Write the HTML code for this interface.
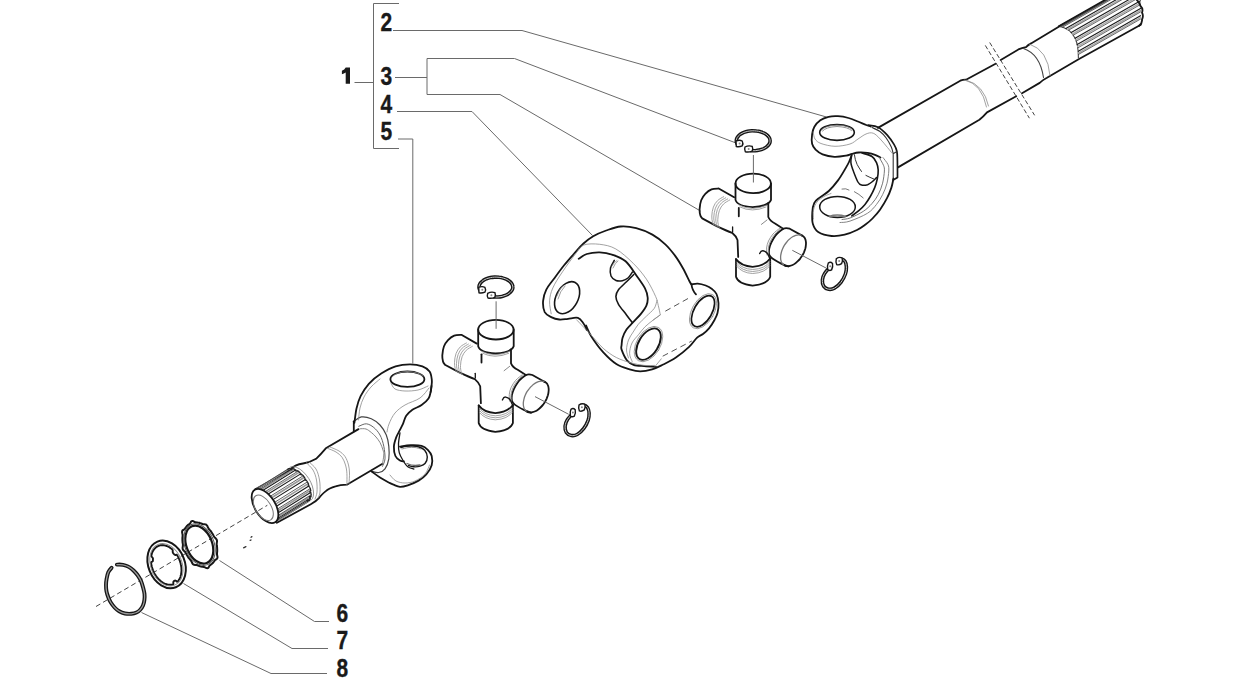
<!DOCTYPE html>
<html><head><meta charset="utf-8">
<style>
html,body{margin:0;padding:0;background:#fff;}
body{width:1236px;height:680px;overflow:hidden;}
svg{display:block;}
.lb{font-family:"Liberation Sans",sans-serif;font-weight:bold;font-size:25px;fill:#1a1a1a;stroke:#1a1a1a;stroke-width:0.35px;}
.k{fill:none;stroke:#161616;stroke-width:1.8;stroke-linecap:round;stroke-linejoin:round;}
.t{fill:none;stroke:#8a8a8a;stroke-width:0.8;stroke-linecap:round;stroke-linejoin:round;}
.m{fill:none;stroke:#444;stroke-width:1.1;stroke-linecap:round;stroke-linejoin:round;}
.ld{fill:none;stroke:#6a6a6a;stroke-width:1;}
.w{fill:#fff;stroke:none;}
</style></head>
<body>
<svg width="1236" height="680" viewBox="0 0 1236 680">
<!-- ===== labels & bracket ===== -->
<g id="labels">
<path class="ld" d="M399 3.5H373.5V148.5H399"/>
<path class="ld" d="M354.5 82.5H373.5"/>
<path d="M345.7 67.5H350V83.8H345.7V72.6Q344 73.9 341.9 74.3V70.7Q344.6 69.9 345.7 67.5Z" fill="#1a1a1a"/>
<text class="lb" transform="translate(380.5,30.5) scale(0.84,1)">2</text>
<text class="lb" transform="translate(380.5,85) scale(0.84,1)">3</text>
<text class="lb" transform="translate(380.5,112.5) scale(0.84,1)">4</text>
<text class="lb" transform="translate(380.5,140) scale(0.84,1)">5</text>
<text class="lb" transform="translate(336.5,621.5) scale(0.84,1)">6</text>
<text class="lb" transform="translate(336.5,648.5) scale(0.84,1)">7</text>
<text class="lb" transform="translate(336.5,676.5) scale(0.84,1)">8</text>
</g>
<!-- ===== leader lines ===== -->
<g id="leaders">
<path class="ld" d="M393 30.5H522L826.5 117"/>
<path class="ld" d="M395 77.5H427M427 58.5V94.5M427 58.5H514.5L736 143M427 94.5H500L700.5 211"/>
<path class="ld" d="M397 111.5H472L592.5 235.5"/>
<path class="ld" d="M398 139H412.8V363.5"/>
<path class="ld" d="M219.5 560.5L314.5 621.5H329"/>
<path class="ld" d="M183.5 583.5L292 648.5H328"/>
<path class="ld" d="M141.5 612.5L271 673.5H327"/>
</g>
<!-- ===== top-right shaft (2) ===== -->
<g id="shaft2">
<!-- shaft body edges -->
<path class="k" d="M877.9 127.9L960.3 80.7Q963 79.6 966 79.7L995.6 63.8M1000.7 60.1L1019.1 49.1Q1023 47.5 1026 47.1Q1028 45 1031 43.4L1059.6 26.2L1106.9 0"/>
<path class="k" d="M898 167.4L979.4 119.7Q983.5 116.5 987 112.4L1016.2 96.2M1022 93.2L1039.7 82.9Q1043.5 79.5 1047 77.8L1078.6 59.2L1140.8 24.7"/>
<!-- step arcs -->
<path class="t" d="M964.7 80Q982 84 986.5 107"/>
<path class="t" d="M966.5 80.2Q984 85 988.5 106"/>
<path class="m" d="M1023.5 48.4Q1040 54 1043.5 77.5"/>
<path class="t" d="M1029.4 44Q1048 50 1050 75.6"/>
<!-- spline start arc -->
<path class="m" d="M1058.8 26.3C1066 27.5 1072 32 1075.1 38.2C1077.5 43 1078.4 50 1078.4 58"/>
<path class="m" d="M1059.5 26.5L1140.5 -19.9" style="stroke:#1a1a1a;stroke-width:1.1"/>
<path class="t" d="M1061.3 26.9L1140.5 -18.4" style="stroke:#a8a8a8;stroke-width:1.5"/>
<path class="t" d="M1062.6 27.2L1140.5 -17.3" style="stroke:#444;stroke-width:0.8"/>
<path class="m" d="M1065.9 28.5L1140.5 -14.2" style="stroke:#1a1a1a;stroke-width:1.1"/>
<path class="t" d="M1067.5 29.5L1140.5 -12.2" style="stroke:#a8a8a8;stroke-width:1.5"/>
<path class="t" d="M1068.6 30.2L1140.5 -10.9" style="stroke:#444;stroke-width:0.8"/>
<path class="m" d="M1071.2 32.6L1140.5 -7.0" style="stroke:#1a1a1a;stroke-width:1.1"/>
<path class="t" d="M1072.5 34.0L1140.5 -4.9" style="stroke:#a8a8a8;stroke-width:1.5"/>
<path class="t" d="M1073.2 35.2L1140.5 -3.3" style="stroke:#444;stroke-width:0.8"/>
<path class="m" d="M1075.1 38.2L1140.5 0.8" style="stroke:#1a1a1a;stroke-width:1.1"/>
<path class="t" d="M1075.7 39.9L1140.5 2.9" style="stroke:#a8a8a8;stroke-width:1.5"/>
<path class="t" d="M1076.2 41.2L1140.5 4.5" style="stroke:#444;stroke-width:0.8"/>
<path class="m" d="M1077.2 44.6L1140.5 8.4" style="stroke:#1a1a1a;stroke-width:1.1"/>
<path class="t" d="M1077.7 46.4L1140.5 10.5" style="stroke:#a8a8a8;stroke-width:1.5"/>
<path class="t" d="M1078.0 47.8L1140.5 12.0" style="stroke:#444;stroke-width:0.8"/>
<path class="m" d="M1078.3 51.3L1140.5 15.7" style="stroke:#1a1a1a;stroke-width:1.1"/>
<path class="t" d="M1078.4 53.2L1140.5 17.7" style="stroke:#a8a8a8;stroke-width:1.5"/>
<path class="t" d="M1078.4 54.5L1140.5 19.1" style="stroke:#444;stroke-width:0.8"/>
<path class="k" d="M1136 -1Q1140 3 1140.5 6Q1143.5 9 1142 12.5Q1143.8 16 1142 19.5Q1142.5 23 1139.1 25.8"/>
<path class="k" d="M1058.8 26.3L1105 0"/>
<path class="m" d="M1061 26.6L1107.5 0"/>
<!-- break lines -->
<path class="ld" d="M985.3 45.4L1029.4 118.2M989.7 42.5L1034.6 115.3" stroke-dasharray="4.5 2.3" style="stroke:#444"/>
<path class="k" d="M868.2 125.2C869.9 125.5 874.9 125.6 878.1 127.2C881.3 128.8 884.6 132.2 887.3 135.1C889.9 138.0 892.4 141.8 894.0 144.4C895.6 147.1 896.2 148.4 896.8 151.0C897.4 153.6 897.3 155.6 897.4 160.0C897.5 164.4 897.5 174.6 897.5 177.5L893.2 180" style="stroke-width:1.7"/>
<path class="k" d="M872.0 127.5C873.3 128.2 877.7 129.8 880.0 131.5C882.3 133.2 884.1 135.2 886.0 137.8C887.9 140.4 890.1 144.3 891.3 147.0C892.5 149.7 892.9 152.6 893.2 153.7L893.2 180M893.2 153.7L896.8 151.5" style="stroke-width:1.1;stroke:#333"/>
<path class="k" d="M870.5 126.5C869.8 126.2 868.3 125.8 866.2 125.0C864.1 124.2 860.9 122.7 857.9 121.5C854.9 120.3 851.8 118.9 848.5 118.0C845.2 117.1 841.3 116.4 838.0 116.2C834.7 116.0 831.5 116.1 828.5 116.8C825.5 117.5 822.6 118.6 820.3 120.3C817.9 122.0 815.8 124.4 814.4 126.8C813.0 129.2 812.5 131.6 812.1 134.4C811.7 137.2 811.5 141.2 812.1 143.8C812.7 146.4 813.9 147.9 815.6 149.7C817.4 151.5 819.5 153.2 822.6 154.4C825.7 155.6 830.5 156.6 834.4 156.8C838.3 157.0 843.3 156.1 846.2 155.6C849.1 155.1 849.9 154.3 852.0 153.8C854.1 153.3 856.2 152.7 858.8 152.5C861.4 152.3 864.9 152.5 867.6 152.9C870.3 153.3 872.9 154.0 875.0 154.8C877.1 155.6 879.6 157.1 880.5 157.5"/>
<ellipse class="k" cx="837" cy="132.4" rx="17.3" ry="7.95" style="stroke-width:1.6"/>
<path class="t" d="M821.5 130Q825 125.5 837 125.2Q849 125.5 852.5 129.5M822.5 131Q826 127 837 126.5Q848 127 851.5 130.5" style="stroke:#777"/>
<path class="t" d="M813.2 132.0C813.5 133.2 813.7 137.1 815.0 139.0C816.3 140.9 817.7 142.3 821.0 143.5C824.3 144.7 830.2 146.2 835.0 146.3C839.8 146.4 846.2 145.2 850.0 144.0C853.8 142.8 855.3 140.7 858.0 139.0C860.7 137.3 863.5 135.0 866.0 134.0C868.5 133.0 870.8 132.3 873.2 133.2C875.6 134.0 877.9 136.7 880.3 139.1C882.7 141.5 885.4 145.1 887.4 147.4C889.4 149.8 891.3 152.2 892.1 153.2"/>
<path class="k" d="M862.0 153.0C863.7 153.6 869.6 154.9 872.0 156.5C874.4 158.1 875.5 160.3 876.5 162.6C877.5 164.8 878.1 167.3 878.2 170.0C878.3 172.7 877.9 175.9 877.3 178.8C876.7 181.7 875.9 184.7 874.7 187.6C873.5 190.5 871.9 193.7 870.3 196.5C868.7 199.3 866.9 202.1 865.0 204.4C863.1 206.8 861.0 208.7 858.8 210.6C856.6 212.5 853.0 215.0 851.8 215.9" style="stroke-width:1.6"/>
<path class="t" d="M879.1 157.3C879.8 158.6 882.6 163.0 883.5 165.3C884.4 167.6 884.5 168.0 884.4 171.0C884.2 174.0 883.6 179.2 882.6 183.2C881.6 187.1 880.0 191.3 878.2 194.7C876.4 198.1 874.5 200.7 872.0 203.5C869.5 206.3 866.9 209.0 863.2 211.4C859.5 213.8 853.5 216.7 850.0 218.0C846.5 219.3 843.3 219.2 842.0 219.5" style="stroke:#666;stroke-width:0.9"/>
<path class="t" d="M883.0 157.6C883.8 158.7 886.9 162.2 887.9 164.4C888.9 166.6 888.9 167.9 888.8 171.0C888.6 174.1 888.0 179.2 887.0 183.2C886.0 187.1 884.4 191.2 882.6 194.7C880.9 198.2 879.0 201.3 876.5 204.4C874.0 207.5 872.0 210.4 867.6 213.2C863.2 216.0 854.6 219.5 850.0 221.1C845.4 222.7 841.7 222.3 840.0 222.5" style="stroke:#777;stroke-width:0.9"/>
<path class="k" d="M851.5 155.5C851.1 156.6 850.1 159.6 849.0 162.0C847.9 164.4 846.5 166.7 844.7 169.8C842.9 172.9 840.6 176.9 838.0 180.4C835.4 183.9 831.9 188.1 828.8 191.0C825.7 193.9 822.0 195.6 819.6 197.6C817.2 199.6 815.5 200.5 814.3 202.9C813.1 205.3 812.5 208.7 812.3 212.2C812.1 215.7 811.9 220.8 812.9 224.1C813.9 227.4 815.1 230.0 818.2 232.0C821.3 234.0 827.1 235.6 831.5 236.0C835.9 236.4 840.5 235.7 844.7 234.7C849.0 233.7 853.5 231.7 857.0 230.0C860.5 228.3 862.9 226.4 865.5 224.5C868.1 222.6 870.1 221.0 872.5 218.5C874.9 216.0 877.6 213.1 880.0 209.7C882.4 206.3 885.1 201.9 887.0 198.2C888.9 194.5 890.3 190.9 891.4 187.6C892.5 184.3 893.1 180.0 893.5 178.5"/>
<ellipse class="k" cx="837.5" cy="206.9" rx="17.8" ry="10.5" style="stroke-width:1.5"/>
<path class="t" d="M829 216.3Q837 213.5 846 216.3M830 217Q837 215 845 217" style="stroke:#777;stroke-width:1.1"/>
<path class="t" d="M813.5 219.0C813.5 217.5 812.9 212.8 813.5 210.0C814.1 207.2 815.2 204.2 817.0 202.0C818.8 199.8 821.7 197.9 824.0 196.5C826.3 195.1 829.8 194.0 831.0 193.5"/>
<path class="k" d="M851.8 154.7C851.6 156.0 850.6 159.8 850.9 162.6C851.2 165.4 852.3 168.3 853.5 171.5C854.7 174.7 856.6 179.7 857.9 182.0C859.2 184.3 859.9 184.7 861.5 185.1C863.1 185.5 865.7 185.3 867.6 184.7C869.5 184.0 871.4 182.4 872.9 181.2C874.4 180.0 875.9 178.2 876.5 177.6" style="stroke-width:1.5"/>
<path class="t" d="M854.4 154.7Q855 160 857.1 164.4Q859 168 861.5 171.5M865.9 175.4Q870 177.5 873.8 179" style="stroke:#333;stroke-width:1"/>
<path class="t" d="M842 189Q846 188 849 190M854.4 191.7Q859 194 863.2 197.9" style="stroke:#555"/>
</g>
<!-- ===== cross joint (3) upper ===== -->
<g id="cross">
<path d="M737.0 143.7C736.9 143.3 736.4 142.0 736.3 141.2C736.3 140.3 736.4 139.5 736.7 138.6C737.0 137.8 737.5 137.0 738.2 136.2C738.8 135.5 739.7 134.7 740.6 134.1C741.6 133.5 742.7 132.9 743.9 132.4C745.1 132.0 746.5 131.6 747.8 131.3C749.2 131.0 750.7 130.9 752.1 130.8C753.5 130.8 755.0 130.8 756.4 131.0C757.8 131.1 759.3 131.4 760.5 131.8C761.8 132.2 763.1 132.6 764.2 133.2C765.3 133.7 766.3 134.4 767.1 135.1C767.9 135.8 768.6 136.6 769.1 137.4C769.6 138.2 769.9 139.0 770.0 139.9C770.2 140.7 770.1 141.6 769.9 142.5C769.6 143.3 769.2 144.1 768.6 144.9C768.0 145.7 767.2 146.4 766.3 147.1C765.4 147.8 764.3 148.4 763.2 148.9C762.0 149.4 760.7 149.8 759.4 150.1C758.1 150.4 756.6 150.6 755.2 150.7C753.8 150.8 751.6 150.7 750.8 150.7" fill="none" stroke="#161616" stroke-width="3.6" stroke-linecap="round" stroke-linejoin="round"/>
<path d="M737.0 143.7C736.9 143.3 736.4 142.0 736.3 141.2C736.3 140.3 736.4 139.5 736.7 138.6C737.0 137.8 737.5 137.0 738.2 136.2C738.8 135.5 739.7 134.7 740.6 134.1C741.6 133.5 742.7 132.9 743.9 132.4C745.1 132.0 746.5 131.6 747.8 131.3C749.2 131.0 750.7 130.9 752.1 130.8C753.5 130.8 755.0 130.8 756.4 131.0C757.8 131.1 759.3 131.4 760.5 131.8C761.8 132.2 763.1 132.6 764.2 133.2C765.3 133.7 766.3 134.4 767.1 135.1C767.9 135.8 768.6 136.6 769.1 137.4C769.6 138.2 769.9 139.0 770.0 139.9C770.2 140.7 770.1 141.6 769.9 142.5C769.6 143.3 769.2 144.1 768.6 144.9C768.0 145.7 767.2 146.4 766.3 147.1C765.4 147.8 764.3 148.4 763.2 148.9C762.0 149.4 760.7 149.8 759.4 150.1C758.1 150.4 756.6 150.6 755.2 150.7C753.8 150.8 751.6 150.7 750.8 150.7" fill="none" stroke="#c8c8c8" stroke-width="1.0" stroke-linecap="round" stroke-linejoin="round"/>
<path d="M736 141Q739.5 139.6 742.2 141Q743.6 143.5 742.2 145.9Q739 147.2 736.3 146.5Z" fill="#fff" stroke="#161616" stroke-width="1.4"/>
<circle cx="739.6" cy="143.4" r="1" fill="#888"/>
<path d="M745 147Q748.5 145.1 752.2 146.3Q753.2 148.6 752.1 151.1Q748.5 152.5 745.3 151.7Q744.1 149.5 745 147Z" fill="#fff" stroke="#161616" stroke-width="1.4"/>
<circle cx="748.7" cy="148.9" r="1" fill="#888"/>
<!-- top cap -->
<ellipse class="k" cx="753.2" cy="183.4" rx="17.7" ry="9.8"/>
<path class="k" d="M735.5 183.4V199.9Q737 206 752.7 207.2Q769 206 771 199.9V183.4"/>
<path class="t" d="M739 205Q752 212 767 205M740 207Q752 213 766 207"/>
<!-- neck / body lines -->
<path class="k" d="M738.8 208V216.3"/>
<path class="k" d="M768.3 203V217Q770 221 775 223.5L782.4 228.2"/>
<!-- left arm -->
<path class="k" d="M734.1 197.3L718.7 188.5C717.5 188.6 713.7 188.4 711.5 189.3C709.3 190.2 707.0 192.0 705.3 193.8C703.6 195.6 702.2 197.6 701.2 200.2C700.2 202.8 699.8 206.6 699.6 209.1C699.5 211.6 699.9 213.8 700.3 215.3C700.7 216.9 701.9 217.9 702.2 218.4L716.6 226.1Q727 231 732.1 232.8Q736 236 737.5 240L738.2 256.9"/>
<path class="t" d="M723.7 196.7C722.6 197.3 719.2 198.9 717.5 200.7C715.8 202.4 714.3 204.5 713.4 207.1C712.4 209.6 711.9 213.4 711.8 216.0C711.6 218.5 712.2 220.6 712.5 222.2C712.8 223.7 713.5 224.6 713.7 225.1" style="stroke:#999;stroke-width:0.9"/>
<path class="t" d="M725.7 197.8C724.6 198.5 721.2 200.1 719.5 201.8C717.8 203.5 716.3 205.6 715.4 208.2C714.4 210.7 713.9 214.6 713.8 217.1C713.6 219.6 714.2 221.8 714.5 223.3C714.8 224.8 715.5 225.7 715.7 226.2" style="stroke:#999;stroke-width:0.9"/>
<path class="t" d="M727.7 198.9C726.6 199.6 723.2 201.2 721.5 202.9C719.8 204.6 718.3 206.8 717.4 209.3C716.4 211.9 715.9 215.7 715.8 218.2C715.6 220.7 716.2 222.9 716.5 224.4C716.8 225.9 717.5 226.8 717.7 227.3" style="stroke:#999;stroke-width:0.9"/>
<path class="t" d="M729.7 200.0C728.6 200.7 725.2 202.3 723.5 204.0C721.8 205.8 720.3 207.9 719.4 210.4C718.4 213.0 717.9 216.8 717.8 219.3C717.6 221.9 718.2 224.0 718.5 225.5C718.8 227.1 719.5 228.0 719.7 228.4" style="stroke:#999;stroke-width:0.9"/>
<path class="k" d="M732.6 227V231.8" style="stroke-width:1.3"/>
<!-- right arm -->
<path class="k" d="M783.3 228.7C782.7 229.1 781.1 230.1 779.8 231.2C778.5 232.3 777.0 233.5 775.6 235.4C774.2 237.3 772.4 240.3 771.3 242.5C770.2 244.7 769.6 246.8 769.2 248.8C768.9 250.8 768.7 252.8 769.2 254.4C769.7 256.0 770.1 256.8 772.1 258.3C774.1 259.8 778.5 262.2 781.2 263.6C783.9 265.0 787.1 265.9 788.3 266.4"/>
<path class="k" d="M783.3 228.7Q786 227.5 789.7 228.7L801.7 235.4"/>
<path class="k" d="M801.2 235.1C801.5 235.3 802.6 235.7 803.1 236.2C803.7 236.6 804.2 237.2 804.6 237.8C805.0 238.5 805.3 239.3 805.6 240.1C805.8 240.9 805.9 241.8 806.0 242.8C806.0 243.7 806.0 244.8 805.8 245.8C805.7 246.8 805.5 247.9 805.2 249.0C804.8 250.1 804.4 251.3 804.0 252.3C803.5 253.4 802.9 254.5 802.3 255.6C801.6 256.6 800.9 257.6 800.2 258.6C799.5 259.5 798.6 260.4 797.8 261.2C797.0 262.0 796.1 262.8 795.2 263.4C794.4 264.0 793.5 264.6 792.6 265.0C791.7 265.4 790.8 265.7 789.9 265.9C789.1 266.2 788.2 266.3 787.5 266.2C786.7 266.2 785.9 266.1 785.2 265.8C784.5 265.6 783.7 264.9 783.4 264.7"/>
<path class="t" d="M783.4 264.7C783.1 264.4 782.2 263.5 781.7 262.7C781.3 261.9 781.0 260.9 780.8 259.9C780.6 258.9 780.6 257.8 780.6 256.6C780.7 255.5 780.9 254.2 781.2 253.0C781.5 251.7 781.9 250.4 782.4 249.2C783.0 247.9 783.6 246.6 784.3 245.4C785.0 244.2 785.9 243.1 786.8 242.0C787.6 240.9 788.6 239.9 789.6 239.1C790.5 238.2 791.6 237.4 792.6 236.8C793.6 236.2 794.7 235.7 795.7 235.3C796.7 235.0 797.7 234.8 798.6 234.8C799.5 234.7 800.8 235.1 801.2 235.1" style="stroke:#777;stroke-width:1.3"/>
<path class="t" d="M779.5 228.5C778.4 229.4 774.8 231.9 773.0 234.0C771.2 236.1 769.6 238.7 768.5 241.0C767.4 243.3 766.9 245.7 766.6 248.0C766.4 250.3 766.9 253.8 767.0 255.0" style="stroke:#999;stroke-width:1"/>
<path class="t" d="M781.0 228.6C780.0 229.5 776.8 231.9 775.0 234.0C773.2 236.1 771.6 238.7 770.5 241.0C769.4 243.3 768.7 245.7 768.4 248.0C768.1 250.3 768.6 253.8 768.6 255.0" style="stroke:#999;stroke-width:1"/>
<!-- center marks -->
<path class="t" d="M761.4 224.4L767 220" style="stroke-width:1"/>
<path class="k" d="M759.7 253.6Q761 250.5 763 250.8Q767 251.5 768.6 255.8L770 259" style="stroke-width:1.4"/>
<!-- bottom cap -->
<path class="k" d="M736 259.1V276.8Q738 284 752.6 285.6Q768 284 770.2 276.8V258.6"/>
<path class="k" d="M736 259.1Q741 266 752.6 266.8Q765 266 770.2 258.6"/>
<path class="t" d="M736.5 262Q742 269 752.6 269.5Q765 269 770 261.5M736.5 264Q742 271 752.6 271.5Q765 271 770 263.5M736.5 266Q742 273 752.6 273.5Q765 273 770 265.5"/>
<!-- leader lines -->
<path class="ld" d="M753.4 155V182.5"/>
<path class="ld" d="M792.3 250.3L826 268"/>
<path d="M830.2 266.9C829.3 268.0 826.0 271.2 824.7 273.4C823.4 275.5 822.6 277.6 822.4 279.8C822.2 282.0 822.7 284.7 823.7 286.3C824.7 287.9 826.8 288.9 828.6 289.2C830.4 289.5 832.4 289.3 834.4 288.2C836.4 287.1 839.1 284.8 840.9 282.4C842.7 280.0 844.5 276.6 845.4 274.0C846.3 271.4 846.5 269.0 846.4 266.9C846.3 264.8 845.7 262.4 844.8 261.1C843.9 259.8 842.0 259.1 840.9 259.1C839.8 259.1 838.7 260.8 838.3 261.1" fill="none" stroke="#161616" stroke-width="3.6" stroke-linecap="round" stroke-linejoin="round"/>
<path d="M830.2 266.9C829.3 268.0 826.0 271.2 824.7 273.4C823.4 275.5 822.6 277.6 822.4 279.8C822.2 282.0 822.7 284.7 823.7 286.3C824.7 287.9 826.8 288.9 828.6 289.2C830.4 289.5 832.4 289.3 834.4 288.2C836.4 287.1 839.1 284.8 840.9 282.4C842.7 280.0 844.5 276.6 845.4 274.0C846.3 271.4 846.5 269.0 846.4 266.9C846.3 264.8 845.7 262.4 844.8 261.1C843.9 259.8 842.0 259.1 840.9 259.1C839.8 259.1 838.7 260.8 838.3 261.1" fill="none" stroke="#c8c8c8" stroke-width="1.0" stroke-linecap="round" stroke-linejoin="round"/>
<path d="M828.3 263Q830.5 261.3 832.5 263.4Q833.2 266.5 831.6 269.9Q829.5 271.2 827.7 269.6Q826.9 266 828.3 263Z" fill="#fff" stroke="#161616" stroke-width="1.4"/>
<circle cx="830.2" cy="266.3" r="1" fill="#888"/>
<path d="M836.3 258.7Q839 256.6 842.1 257.9Q843 260.5 841.6 263.6Q839 265.5 836.7 264.6Q835.5 261.5 836.3 258.7Z" fill="#fff" stroke="#161616" stroke-width="1.4"/>
<circle cx="839.2" cy="261" r="1" fill="#888"/>
</g>
<use href="#cross" transform="translate(-257.3 146.3)"/>
<g id="dyoke">
<path class="k" d="M586.8 330.0C586.2 328.9 585.0 325.5 583.5 323.5C582.0 321.5 580.5 318.7 577.9 317.9C575.3 317.1 571.1 318.5 568.0 318.8C564.9 319.1 562.1 319.8 559.3 319.5C556.5 319.2 553.6 318.3 551.2 317.1C548.8 315.9 546.1 314.9 544.7 312.2C543.4 309.5 542.8 304.7 543.1 300.9C543.4 297.1 544.4 293.4 546.3 289.6C548.2 285.8 551.4 282.2 554.4 278.2C557.4 274.1 560.9 269.3 564.1 265.3C567.3 261.3 570.6 257.6 573.8 254.0C577.0 250.4 580.3 246.5 583.5 243.5C586.7 240.5 589.4 238.4 593.2 236.2C597.0 234.0 601.6 232.1 606.2 230.5C610.8 228.9 615.7 226.9 620.7 226.5C625.7 226.1 630.9 226.8 636.2 228.1C641.5 229.4 647.5 231.9 652.4 234.6C657.2 237.3 661.5 240.8 665.3 244.3C669.1 247.8 672.0 251.6 675.0 255.6C678.0 259.6 680.7 264.2 683.1 268.5C685.5 272.8 688.2 278.8 689.6 281.5C691.0 284.2 691.2 284.0 691.5 284.5"/>
<path class="k" d="M691.5 284.5C692.5 284.4 695.3 283.4 697.7 283.6C700.1 283.8 703.3 284.6 705.7 285.5C708.1 286.4 710.2 287.6 712.0 289.0C713.8 290.4 715.4 291.6 716.5 294.0C717.6 296.4 718.3 300.0 718.5 303.2C718.7 306.4 718.2 310.2 717.5 313.0C716.8 315.8 715.9 317.4 714.5 320.0C713.1 322.6 710.9 326.1 709.0 328.4C707.1 330.7 705.0 332.5 703.0 334.0C701.0 335.5 699.4 335.5 697.1 337.6C694.8 339.8 692.6 343.6 689.1 346.9C685.6 350.2 680.3 354.5 675.9 357.5C671.5 360.5 666.7 362.8 662.7 364.8C658.7 366.8 655.9 368.3 652.1 369.4C648.4 370.5 644.0 371.4 640.2 371.4C636.5 371.4 633.6 370.6 629.6 369.4C625.6 368.2 620.7 367.0 616.3 364.1C611.9 361.2 607.3 356.8 603.1 352.2C598.9 347.6 594.1 340.8 591.2 336.3C588.4 331.9 586.9 327.3 586.0 325.5"/>
<path class="k" d="M691.5 284.5Q692 290 696 294.4"/>
<path class="t" d="M551.2 313.8C550.9 311.6 549.3 305.2 549.6 300.9C549.9 296.6 550.6 292.9 552.8 288.0C554.9 283.1 558.7 277.5 562.5 271.8C566.3 266.1 571.9 258.4 575.4 254.0C578.9 249.6 579.5 246.7 583.5 245.1C587.5 243.5 594.3 243.7 599.7 244.3C605.1 245.0 610.3 245.8 615.9 249.0C621.5 252.2 628.0 258.2 633.1 263.2C638.2 268.2 642.6 273.6 646.4 279.1C650.1 284.6 653.6 292.0 655.6 296.4C657.6 300.8 657.5 302.5 658.3 305.6C659.1 308.7 660.0 313.3 660.3 314.9L653 320.2"/>
<path class="k" d="M578.7 258.8C580.1 258.0 583.3 255.1 586.8 254.0C590.3 252.9 595.4 252.3 599.7 252.4C604.0 252.5 608.4 253.3 612.7 254.8C617.0 256.3 621.5 257.7 625.6 261.3C629.7 264.9 633.9 272.0 637.1 276.5C640.3 281.0 643.2 284.9 645.0 288.4C646.8 291.9 647.5 294.8 647.7 297.7C647.9 300.6 647.5 303.0 646.4 305.6C645.3 308.2 643.3 310.8 641.1 313.6C638.9 316.4 635.5 319.6 633.1 322.2C630.7 324.8 628.3 326.9 626.5 329.5C624.7 332.1 623.3 335.4 622.5 338.0C621.7 340.6 621.8 343.1 621.6 345.0C621.5 346.9 620.7 347.1 621.6 349.6C622.5 352.1 624.9 357.7 626.9 360.2C628.9 362.7 630.6 363.8 633.5 364.8C636.4 365.8 640.4 365.8 644.1 366.1C647.9 366.4 654.0 366.7 656.0 366.8"/>
<path class="k" d="M614.3 260.4C613.7 261.7 611.0 265.4 610.5 268.0C610.0 270.6 610.1 273.9 611.0 276.0C611.9 278.1 614.1 279.7 616.0 280.5C617.9 281.3 620.4 281.1 622.4 280.7C624.4 280.3 626.3 279.4 628.0 278.0C629.7 276.6 631.8 273.0 632.5 272.0" style="stroke-width:1.5"/>
<path class="t" d="M612 266Q614 262 617 260.5M613 268Q615 263 618 261"/>
<path class="k" d="M633.8 274.5C632.6 275.7 629.0 279.3 626.5 281.8C624.0 284.3 620.3 287.3 618.5 289.7C616.7 292.1 615.9 294.0 615.9 296.4C615.9 298.8 616.7 301.2 618.5 304.3C620.3 307.4 624.2 311.8 626.5 314.9C628.8 318.0 631.5 321.5 632.5 322.8" style="stroke-width:1.6"/>
<ellipse class="k" cx="567.1" cy="297.7" rx="10.9" ry="17.2" transform="rotate(28 567.1 297.7)" style="stroke-width:1.6"/>
<path class="t" d="M557 296Q559 289 563 285.5M558 299Q560 291 565 286"/>
<ellipse class="k" cx="648.5" cy="344.1" rx="9.8" ry="17.4" transform="rotate(31.5 648.5 344.1)" style="stroke-width:1.9"/>
<ellipse class="t" cx="648.5" cy="344.1" rx="11.8" ry="19.4" transform="rotate(31.5 648.5 344.1)"/>
<ellipse class="k" cx="703" cy="311.2" rx="9" ry="17.2" transform="rotate(30 703 311.2)" style="stroke-width:1.7"/>
<ellipse class="t" cx="703" cy="311.2" rx="11" ry="19.2" transform="rotate(30 703 311.2)"/>
<path class="t" d="M576.6 319.8C578.8 322.1 585.5 329.0 589.9 333.7C594.3 338.4 598.7 344.2 603.1 348.2C607.5 352.2 611.7 355.1 616.3 357.5C620.9 359.9 626.3 361.5 630.9 362.8C635.5 364.1 640.1 365.0 644.1 365.4C648.1 365.8 652.9 365.4 654.7 365.4"/>
<path class="t" d="M660.3 314.9C659.1 315.8 655.5 318.2 653.0 320.2C650.5 322.2 647.4 324.4 645.0 326.8C642.6 329.2 640.6 332.1 638.4 334.8C636.2 337.5 633.5 339.9 632.0 343.0C630.5 346.1 629.6 350.4 629.6 353.5C629.6 356.6 631.8 360.2 632.2 361.5"/>
<path class="t" d="M657.0 300.3C656.5 301.6 656.1 305.7 654.3 308.3C652.5 310.9 649.0 313.6 646.4 316.2C643.8 318.8 640.6 321.5 638.4 324.2C636.2 326.9 634.8 329.5 633.1 332.1C631.5 334.7 629.6 337.0 628.5 340.0C627.4 343.0 626.5 347.0 626.5 350.0C626.5 353.0 628.2 356.7 628.5 358.0"/>
<path class="t" d="M661.3 358.8L655 366.5"/>
<path class="ld" d="M665.3 311.2L689.1 297.9M662.7 356.2L691.8 341" stroke-dasharray="6 4" style="stroke:#555"/>
</g>
<g id="lyoke">
<path class="k" d="M358.5 429.1L325.8 448.3Q321 454 316.1 458.8Q310 462.5 303 463.5Q295 464.5 289.2 470.3L255.3 489.3"/>
<path class="k" d="M382.5 463.8L346.9 484.7Q340 485 335.5 486.3Q329 488 325.8 491.1Q321 495 319.4 497.6Q316 501.5 310.8 504.2L276.9 522.8"/>
<path class="m" d="M275.7 521.9L308.4 501.5" style="stroke:#1a1a1a;stroke-width:1.1"/>
<path class="t" d="M276.6 521.0L309.3 500.6" style="stroke:#999;stroke-width:1.7"/>
<path class="t" d="M277.2 520.1L309.9 499.6" style="stroke:#333;stroke-width:0.8"/>
<path class="m" d="M277.9 518.3L310.7 497.8" style="stroke:#1a1a1a;stroke-width:1.1"/>
<path class="t" d="M278.2 516.7L311.0 496.2" style="stroke:#999;stroke-width:1.7"/>
<path class="t" d="M278.4 515.3L311.1 494.8" style="stroke:#333;stroke-width:0.8"/>
<path class="m" d="M278.2 512.8L311.0 492.3" style="stroke:#1a1a1a;stroke-width:1.1"/>
<path class="t" d="M277.9 510.7L310.6 490.3" style="stroke:#999;stroke-width:1.7"/>
<path class="t" d="M277.5 509.0L310.2 488.6" style="stroke:#333;stroke-width:0.8"/>
<path class="m" d="M276.5 506.2L309.2 485.8" style="stroke:#1a1a1a;stroke-width:1.1"/>
<path class="t" d="M275.6 504.1L308.3 483.6" style="stroke:#999;stroke-width:1.7"/>
<path class="t" d="M274.7 502.3L307.4 481.9" style="stroke:#333;stroke-width:0.8"/>
<path class="m" d="M273.0 499.6L305.8 479.2" style="stroke:#1a1a1a;stroke-width:1.1"/>
<path class="t" d="M271.6 497.7L304.4 477.2" style="stroke:#999;stroke-width:1.7"/>
<path class="t" d="M270.4 496.2L303.2 475.8" style="stroke:#333;stroke-width:0.8"/>
<path class="m" d="M268.3 494.0L301.1 473.6" style="stroke:#1a1a1a;stroke-width:1.1"/>
<path class="t" d="M266.7 492.6L299.4 472.1" style="stroke:#999;stroke-width:1.7"/>
<path class="t" d="M265.3 491.6L298.1 471.1" style="stroke:#333;stroke-width:0.8"/>
<path class="m" d="M263.1 490.2L295.9 469.8" style="stroke:#1a1a1a;stroke-width:1.1"/>
<path class="t" d="M261.5 489.5L294.2 469.1" style="stroke:#999;stroke-width:1.7"/>
<path class="t" d="M260.2 489.1L292.9 468.7" style="stroke:#333;stroke-width:0.8"/>
<path class="m" d="M258.2 488.8L291.0 468.4" style="stroke:#1a1a1a;stroke-width:1.1"/>
<path class="t" d="M256.8 489.0L289.6 468.5" style="stroke:#999;stroke-width:1.7"/>
<path class="t" d="M255.8 489.2L288.5 468.8" style="stroke:#333;stroke-width:0.8"/>
<ellipse cx="265" cy="506" rx="10.2" ry="19.2" transform="rotate(-32 265 506)" fill="#fff" stroke="#161616" stroke-width="1.8"/>
<ellipse class="t" cx="263.3" cy="507.8" rx="7.8" ry="14.2" transform="rotate(-32 263.3 507.8)" style="stroke:#777;stroke-width:1"/>
<path class="m" d="M307.6 501.3L307.4 500.4L307.5 500.0L308.1 500.3L308.8 500.7L309.2 500.7L309.4 500.5L309.6 500.2L309.8 499.9L310.0 499.6L310.1 499.2L310.3 498.9L310.0 498.1L309.6 497.2L309.5 496.7L310.0 496.7L310.7 496.8L310.9 496.5L311.0 496.1L311.0 495.6L311.1 495.2L311.1 494.7L311.1 494.2L311.1 493.7L310.6 493.0L310.0 492.2L309.8 491.6L310.1 491.3L310.6 491.1L310.7 490.6L310.6 490.1L310.5 489.5L310.3 489.0L310.2 488.4L310.0 487.9L309.8 487.3L309.2 486.7L308.5 486.2L308.2 485.6L308.3 485.1L308.6 484.5L308.5 484.0L308.2 483.4L307.9 482.9L307.6 482.3L307.3 481.8L307.0 481.2L306.7 480.7L306.1 480.3L305.4 480.1L305.0 479.7L304.9 479.0L304.9 478.2L304.6 477.6L304.2 477.1L303.8 476.6L303.5 476.1L303.1 475.6L302.7 475.2L302.2 474.8L301.7 474.7L301.1 474.8L300.7 474.6L300.4 473.8L300.1 472.9L299.7 472.4L299.3 472.0L298.8 471.7L298.4 471.3L298.0 471.0L297.5 470.7L297.1 470.5L296.7 470.7L296.3 471.1L296.0 471.1L295.5 470.5L295.0 469.6L294.5 469.2L294.1 469.0L293.7 468.9L293.2 468.7L292.8 468.6L292.4 468.5L292.0 468.5L291.8 469.0L291.7 469.7L291.5 469.9L290.9 469.4L290.3 468.7L289.8 468.5L289.4 468.5L289.1 468.6L288.8 468.7L288.5 468.8L288.1 468.9L287.9 469.1L287.9 469.8" style="stroke:#222;stroke-width:1.2"/>
<path class="t" d="M290.2 467.2C290.6 467.1 291.6 466.7 292.4 466.6C293.2 466.6 294.1 466.7 295.0 466.9C295.9 467.1 296.9 467.5 297.8 468.0C298.8 468.4 299.8 469.1 300.8 469.8C301.7 470.5 302.7 471.3 303.6 472.2C304.6 473.1 305.5 474.2 306.3 475.2C307.2 476.3 308.0 477.5 308.8 478.6C309.5 479.8 310.2 481.1 310.8 482.3C311.3 483.5 311.9 484.8 312.3 486.0C312.7 487.3 313.0 488.5 313.2 489.7C313.4 490.9 313.5 492.0 313.6 493.1C313.6 494.2 313.5 495.2 313.3 496.1C313.1 497.0 312.8 497.8 312.4 498.6C312.0 499.3 311.2 500.0 310.9 500.3" style="stroke:#777"/>
<path class="t" d="M306.4 462.8C307.5 464.0 311.3 467.1 313.0 470.0C314.7 472.9 315.8 476.3 316.5 480.0C317.2 483.7 317.2 488.8 317.0 492.0C316.8 495.2 315.3 497.8 315.0 499.0"/>
<path class="t" d="M309.0 462.0C310.2 463.2 314.2 466.0 316.0 469.0C317.8 472.0 318.8 476.2 319.5 480.0C320.2 483.8 320.2 489.0 320.0 492.0C319.8 495.0 318.3 497.0 318.0 498.0"/>
<path class="t" d="M327.5 448.3C328.9 448.9 333.6 450.5 336.0 452.0C338.4 453.5 340.4 455.0 342.0 457.2C343.6 459.4 344.7 462.3 345.5 465.0C346.3 467.7 346.7 470.1 346.9 473.4C347.1 476.7 346.9 482.8 346.9 484.7"/>
<path class="t" d="M330.0 447.0C331.5 447.7 336.5 449.4 339.0 451.0C341.5 452.6 343.4 454.2 345.0 456.5C346.6 458.8 347.8 462.2 348.5 465.0C349.2 467.8 349.4 469.9 349.5 473.0C349.6 476.1 349.1 481.8 349.0 483.5"/>
<path class="m" d="M353.8 421.3C355.1 420.6 358.4 417.3 361.3 416.9C364.2 416.5 368.2 417.4 371.3 418.8C374.4 420.2 377.5 422.3 380.0 425.0C382.5 427.7 384.8 431.4 386.3 435.0C387.8 438.6 388.4 442.3 388.8 446.3C389.2 450.3 389.4 455.1 388.8 458.8C388.2 462.6 386.7 466.5 385.0 468.8C383.3 471.1 381.1 472.1 378.8 472.5C376.5 472.9 372.6 471.5 371.3 471.3" style="stroke-width:1.2"/>
<path class="t" d="M358.8 426.3C360.1 425.9 363.8 423.6 366.3 423.8C368.8 424.0 371.5 425.6 373.8 427.5C376.1 429.4 378.3 431.9 380.0 435.0C381.7 438.1 383.0 442.3 383.8 446.3C384.6 450.3 385.2 455.5 385.0 458.8C384.8 462.1 382.9 465.1 382.5 466.3" style="stroke:#666;stroke-width:1"/>
<path class="t" d="M360.0 428.8C361.0 428.8 364.1 428.4 366.0 429.0C367.9 429.6 369.6 431.2 371.3 432.5C373.0 433.8 374.6 435.3 376.0 437.0C377.4 438.7 378.8 440.3 380.0 442.5C381.2 444.7 382.4 447.9 383.0 450.0C383.6 452.1 383.9 452.7 383.8 455.0C383.7 457.3 382.7 462.3 382.5 463.8" style="stroke:#777;stroke-width:0.9"/>
<path class="k" d="M353.8 431.3L353.8 421.3"/>
<path class="k" d="M354.4 422.9C354.8 420.5 355.5 412.9 356.5 408.5C357.5 404.1 358.6 400.3 360.6 396.2C362.7 392.1 365.4 387.6 368.8 383.8C372.2 380.0 376.7 376.4 381.2 373.5C385.7 370.6 390.8 367.8 395.6 366.3C400.4 364.8 405.5 364.3 410.0 364.3C414.5 364.3 419.1 365.1 422.4 366.3C425.7 367.5 428.0 369.3 429.6 371.5C431.2 373.7 431.5 377.3 431.8 379.7C432.1 382.1 431.7 383.9 431.5 386.0C431.3 388.1 430.8 391.1 430.6 392.1"/>
<path class="t" d="M358.5 420.0C358.8 418.0 359.1 411.8 360.0 408.0C360.9 404.2 362.2 400.5 364.0 397.0C365.8 393.5 368.3 390.0 371.0 387.0C373.7 384.0 378.5 380.3 380.0 379.0"/>
<ellipse class="k" cx="407.4" cy="379.2" rx="17" ry="7.7"/>
<path class="t" d="M392 377Q396 372 407 371.5Q419 372 423 376"/>
<path class="t" d="M391.0 383.0C391.7 384.0 392.7 387.7 395.0 389.0C397.3 390.3 401.2 390.8 405.0 391.0C408.8 391.2 414.2 390.8 418.0 390.0C421.8 389.2 426.3 386.7 428.0 386.0"/>
<path class="t" d="M429.0 388.0C427.5 389.7 424.0 395.2 420.0 398.0C416.0 400.8 409.2 402.5 405.0 405.0C400.8 407.5 397.7 409.8 395.0 413.0C392.3 416.2 390.3 420.8 389.0 424.0C387.7 427.2 387.3 430.7 387.0 432.0"/>
<path class="k" d="M431.5 386.0C431.4 387.0 431.1 390.0 430.6 392.1C430.1 394.2 430.0 396.3 428.5 398.5C427.0 400.7 424.3 403.2 421.6 405.1C418.9 407.0 415.0 407.9 412.4 409.7C409.8 411.5 407.8 413.5 406.2 415.8C404.6 418.1 404.1 421.3 403.1 423.6C402.1 425.9 401.2 427.4 400.1 429.7C399.0 432.0 397.2 434.6 396.2 437.4C395.2 440.2 394.0 443.6 393.9 446.7C393.8 449.8 394.4 453.7 395.4 456.0C396.4 458.3 398.7 459.7 400.1 460.6C401.5 461.5 403.3 461.3 403.9 461.4"/>
<path class="k" d="M400.0 432.8C399.8 434.6 398.6 440.2 398.5 443.6C398.4 447.0 398.5 450.1 399.3 452.9C400.1 455.7 401.7 458.3 403.1 460.6C404.5 462.9 406.0 465.4 407.8 466.8C409.6 468.2 412.9 468.7 413.9 469.1" style="stroke-width:1.3"/>
<path class="k" d="M400.0 446.7C401.8 446.4 407.2 445.3 410.8 445.2C414.4 445.1 418.8 445.1 421.6 445.9C424.4 446.7 426.1 448.1 427.8 449.8C429.5 451.5 431.1 453.4 431.7 456.0C432.3 458.6 432.6 462.1 431.7 465.2C430.8 468.3 428.5 471.9 426.3 474.5C424.1 477.1 421.7 478.8 418.6 480.6C415.5 482.4 410.9 484.3 407.8 485.3C404.7 486.3 402.4 486.9 400.0 486.8C397.6 486.7 395.4 485.4 393.5 484.7C391.6 484.0 391.1 483.7 388.8 482.5C386.6 481.3 382.9 479.4 380.0 477.5C377.1 475.6 372.8 472.3 371.3 471.3"/>
<path class="k" d="M401.0 447.5C401.8 447.3 404.1 446.5 406.0 446.3C407.9 446.1 410.2 446.0 412.4 446.1C414.6 446.2 416.9 446.3 419.0 447.0C421.1 447.7 423.3 448.6 424.7 450.3C426.1 452.0 427.2 454.8 427.3 457.0C427.4 459.2 426.2 462.0 425.0 463.5C423.8 465.0 421.9 465.6 420.0 466.2C418.1 466.8 415.8 466.9 413.9 466.8C412.0 466.7 409.4 465.7 408.5 465.5" style="stroke-width:1.4"/>
<path class="t" d="M390.0 475.0C391.0 476.0 393.5 479.7 396.0 481.0C398.5 482.3 401.8 483.0 405.0 483.0C408.2 483.0 411.7 482.5 415.0 481.0C418.3 479.5 422.6 476.7 425.0 474.0C427.4 471.3 428.8 466.5 429.5 465.0"/>
<path class="t" d="M407 463.5Q413 466.5 420 465" style="stroke:#666;stroke-width:1.3"/>
<path class="t" d="M402.0 449.0C403.0 448.8 405.8 447.9 408.0 447.6C410.2 447.4 412.8 447.3 415.0 447.5C417.2 447.7 420.0 448.8 421.0 449.0" style="stroke:#888;stroke-width:0.9"/>
</g>
<g id="rings">
<path class="ld" d="M96 606.5L267.3 505.3" stroke-dasharray="5 3.2" style="stroke:#444;stroke-width:1"/>
<path class="k" d="M215.5 538.2C215.8 538.6 216.1 538.9 216.4 539.2C216.6 539.6 216.8 539.9 216.9 540.3C217.0 540.7 217.0 541.1 217.0 541.5C217.0 541.9 216.9 542.4 216.8 542.7C216.8 543.1 216.7 543.5 216.7 543.9C216.7 544.3 216.7 544.6 216.7 545.0C216.8 545.4 216.9 545.7 216.9 546.1C217.0 546.5 217.0 546.8 217.1 547.2C217.1 547.5 217.1 547.9 217.1 548.3C217.2 548.6 217.2 549.0 217.2 549.3C217.2 549.7 217.2 550.0 217.2 550.4C217.2 550.7 217.2 551.1 217.2 551.4C217.1 551.8 217.1 552.1 217.1 552.5C217.0 552.8 217.0 553.1 217.0 553.5C217.0 553.9 217.0 554.2 217.0 554.6C217.1 555.0 217.2 555.5 217.3 555.9C217.4 556.4 217.5 556.8 217.5 557.2C217.5 557.6 217.4 558.0 217.3 558.3C217.2 558.6 217.0 558.8 216.7 559.0C216.5 559.2 216.2 559.4 215.9 559.5C215.6 559.7 215.3 559.8 215.1 560.0C214.9 560.2 214.7 560.4 214.6 560.6C214.4 560.9 214.2 561.1 214.1 561.4C213.9 561.6 213.8 561.9 213.6 562.1C213.4 562.3 213.2 562.5 213.0 562.7C212.9 562.9 212.7 563.2 212.5 563.4C212.3 563.5 212.1 563.7 211.9 563.9C211.7 564.1 211.5 564.3 211.2 564.4C211.0 564.6 210.8 564.8 210.6 564.9C210.4 565.1 210.1 565.2 209.9 565.4C209.7 565.5 209.5 565.8 209.3 566.0C209.2 566.3 209.0 566.7 208.8 567.0C208.7 567.3 208.5 567.6 208.3 567.8C208.0 568.0 207.8 568.2 207.5 568.2C207.2 568.3 206.9 568.2 206.5 568.1C206.2 568.0 205.9 567.7 205.5 567.6C205.2 567.4 204.9 567.2 204.6 567.1C204.3 566.9 204.0 566.9 203.7 566.9C203.4 566.9 203.2 566.9 202.9 566.8C202.6 566.8 202.3 566.8 202.0 566.7C201.8 566.7 201.5 566.7 201.2 566.6C200.9 566.5 200.6 566.5 200.3 566.4C200.0 566.3 199.8 566.2 199.5 566.1C199.2 566.0 198.9 565.9 198.6 565.8C198.3 565.7 198.1 565.6 197.8 565.5C197.5 565.3 197.2 565.1 196.9 565.0C196.6 565.0 196.3 564.9 196.0 564.9C195.7 564.9 195.4 564.9 195.1 564.9C194.7 564.9 194.4 564.9 194.1 564.8C193.8 564.7 193.4 564.6 193.2 564.3C192.9 564.1 192.6 563.7 192.4 563.4C192.2 563.0 192.0 562.5 191.8 562.1C191.6 561.7 191.5 561.3 191.2 561.0C191.0 560.6 190.8 560.4 190.6 560.1C190.4 559.8 190.1 559.6 189.9 559.3C189.6 559.0 189.4 558.7 189.2 558.4C189.0 558.2 188.7 557.9 188.5 557.6C188.3 557.3 188.1 557.0 187.9 556.7C187.7 556.3 187.5 556.0 187.3 555.7C187.1 555.4 186.9 555.1 186.7 554.8C186.5 554.4 186.3 554.1 186.2 553.8C186.0 553.4 185.8 553.1 185.6 552.8C185.4 552.4 185.2 552.1 184.9 551.8C184.7 551.5 184.3 551.3 184.1 551.0C183.8 550.6 183.5 550.3 183.2 550.0C183.0 549.6 182.8 549.3 182.7 548.9C182.6 548.5 182.6 548.1 182.6 547.7C182.6 547.3 182.7 546.8 182.8 546.5C182.8 546.1 182.9 545.7 182.9 545.3C182.9 544.9 182.9 544.6 182.9 544.2C182.8 543.8 182.7 543.5 182.7 543.1C182.6 542.7 182.6 542.4 182.5 542.0C182.5 541.7 182.5 541.3 182.5 540.9C182.4 540.6 182.4 540.2 182.4 539.9C182.4 539.5 182.4 539.2 182.4 538.8C182.4 538.5 182.4 538.1 182.4 537.8C182.5 537.4 182.5 537.1 182.5 536.7C182.6 536.4 182.6 536.1 182.6 535.7C182.6 535.3 182.6 535.0 182.6 534.6C182.5 534.2 182.4 533.7 182.3 533.3C182.2 532.8 182.1 532.4 182.1 532.0C182.1 531.6 182.2 531.2 182.3 530.9C182.4 530.6 182.6 530.4 182.9 530.2C183.1 530.0 183.4 529.8 183.7 529.7C184.0 529.5 184.3 529.4 184.5 529.2C184.7 529.0 184.9 528.8 185.0 528.6C185.2 528.3 185.4 528.1 185.5 527.8C185.7 527.6 185.8 527.3 186.0 527.1C186.2 526.9 186.4 526.7 186.6 526.5C186.7 526.3 186.9 526.0 187.1 525.8C187.3 525.7 187.5 525.5 187.7 525.3C187.9 525.1 188.1 524.9 188.4 524.8C188.6 524.6 188.8 524.4 189.0 524.3C189.2 524.1 189.5 524.0 189.7 523.8C189.9 523.7 190.1 523.4 190.3 523.2C190.4 522.9 190.6 522.5 190.8 522.2C190.9 521.9 191.1 521.6 191.3 521.4C191.6 521.2 191.8 521.0 192.1 521.0C192.4 520.9 192.7 521.0 193.1 521.1C193.4 521.2 193.7 521.5 194.1 521.6C194.4 521.8 194.7 522.0 195.0 522.1C195.3 522.3 195.6 522.3 195.9 522.3C196.2 522.3 196.4 522.3 196.7 522.4C197.0 522.4 197.3 522.4 197.6 522.5C197.8 522.5 198.1 522.5 198.4 522.6C198.7 522.7 199.0 522.7 199.3 522.8C199.6 522.9 199.8 523.0 200.1 523.1C200.4 523.2 200.7 523.3 201.0 523.4C201.3 523.5 201.5 523.6 201.8 523.7C202.1 523.9 202.4 524.1 202.7 524.2C203.0 524.2 203.3 524.3 203.6 524.3C203.9 524.3 204.2 524.3 204.5 524.3C204.9 524.3 205.2 524.3 205.5 524.4C205.8 524.5 206.2 524.6 206.4 524.9C206.7 525.1 207.0 525.5 207.2 525.8C207.4 526.2 207.6 526.7 207.8 527.1C208.0 527.5 208.1 527.9 208.4 528.2C208.6 528.6 208.8 528.8 209.0 529.1C209.2 529.4 209.5 529.6 209.7 529.9C210.0 530.2 210.2 530.5 210.4 530.8C210.6 531.0 210.9 531.3 211.1 531.6C211.3 531.9 211.5 532.2 211.7 532.5C211.9 532.9 212.1 533.2 212.3 533.5C212.5 533.8 212.7 534.1 212.9 534.4C213.1 534.8 213.3 535.1 213.4 535.4C213.6 535.8 213.8 536.1 214.0 536.4C214.2 536.8 214.4 537.1 214.7 537.4C214.9 537.7 215.3 537.9 215.5 538.2Z" style="stroke-width:2"/>
<ellipse class="k" cx="199.3" cy="544.6" rx="12.8" ry="19.8" transform="rotate(-22 199.3 544.6)" style="stroke-width:2.2"/>
<ellipse class="t" cx="199.5" cy="544.6" rx="14.6" ry="21.6" transform="rotate(-22 199.5 544.6)" style="stroke:#555;stroke-width:1"/>
<ellipse class="k" cx="166.6" cy="564.4" rx="18.2" ry="24.6" transform="rotate(-22 166.6 564.4)" style="stroke-width:2"/>
<path class="k" d="M179.4 559.7L179.6 560.4L179.9 561.0L180.1 561.7L180.3 562.4L180.5 563.1L180.7 563.8L180.8 564.5L181.0 565.2L181.1 565.8L181.2 566.5L181.3 567.2L181.4 567.9L181.4 568.6L181.4 569.3L181.5 569.9L181.5 570.6L181.4 571.3L181.4 571.9L181.3 572.6L181.2 573.2L181.1 573.8L181.0 574.4L180.9 575.0L180.7 575.6L180.6 576.2L180.4 576.8L180.2 577.3L180.0 577.9L179.7 578.4L179.5 578.9L179.2 579.4L178.9 579.8L178.6 580.3L178.3 580.7L178.0 581.1L177.6 581.5L177.1 581.7L176.0 580.8L175.3 580.5L174.8 580.6L174.4 580.8L174.1 581.0L173.7 581.3L173.4 581.7L173.3 582.5L173.4 584.1L173.0 584.4L172.5 584.6L172.0 584.7L171.5 584.7L171.0 584.8L170.5 584.8L170.0 584.8L169.5 584.8L168.9 584.8L168.4 584.7L167.9 584.6L167.4 584.5L166.8 584.4L166.3 584.2L165.8 584.0L165.2 583.8L164.7 583.6L164.2 583.3L163.6 583.1L163.1 582.8L162.6 582.4L162.1 582.1L161.6 581.7L161.1 581.4L160.6 581.0L160.1 580.5L159.6 580.1L159.1 579.6L158.7 579.2L158.2 578.7L157.7 578.2L157.3 577.6L156.9 577.1L156.5 576.5L156.1 576.0L155.7 575.4L155.3 574.8L154.9 574.2L154.6 573.6L154.2 572.9L153.9 572.3L153.6 571.6L153.3 571.0L153.0 570.3L152.8 569.6L152.5 569.0L152.3 568.3L152.1 567.6L151.9 566.9L151.7 566.2L151.6 565.5L151.4 564.8L151.3 564.2L151.2 563.5L151.1 562.8L151.2 562.1L152.3 561.7L152.8 561.2L152.9 560.7L152.9 560.1L152.9 559.5L153.0 559.0L152.9 558.3L152.4 557.5L151.4 556.3L151.4 555.6L151.5 555.0L151.7 554.4L151.8 553.8L152.0 553.2L152.2 552.7L152.4 552.1L152.7 551.6L152.9 551.1L153.2 550.6L153.5 550.2L153.8 549.7L154.1 549.3L154.4 548.9L154.8 548.5L155.2 548.1L155.5 547.8L155.9 547.4L156.3 547.1L156.7 546.8L157.1 546.6L157.6 546.3L158.0 546.1L158.5 545.9L158.9 545.7L159.4 545.6L159.9 545.4L160.4 545.3L160.9 545.3L161.4 545.2L161.9 545.2L162.4 545.2L162.9 545.2L163.5 545.2L164.0 545.3L164.5 545.4L165.0 545.5L165.6 545.6L166.1 545.8L166.6 546.0L167.2 546.2L167.7 546.4L168.2 546.7L168.8 546.9L169.3 547.2L169.8 547.6L170.3 547.9L170.8 548.3L171.3 548.6L171.8 549.0L172.3 549.5L172.7 550.0L172.7 551.6L172.8 552.5L173.2 553.1L173.6 553.6L173.9 554.0L174.3 554.5L174.8 554.8L175.5 555.0L176.6 554.7L177.1 555.2L177.5 555.8L177.8 556.4L178.2 557.1L178.5 557.7L178.8 558.4L179.1 559.0Z" style="stroke-width:1.9"/>
<ellipse class="t" cx="166.4" cy="564.7" rx="15.6" ry="22" transform="rotate(-22 166.4 564.7)" style="stroke:#888;stroke-width:0.9"/>
<path d="M111.6 567.8C111.0 568.5 109.1 570.5 108.3 572.3C107.5 574.1 107.0 576.7 106.6 578.8C106.2 580.9 106.0 582.9 106.0 585.0C106.0 587.1 106.1 589.3 106.5 591.3C106.9 593.3 107.5 595.1 108.2 597.0C108.9 598.9 109.7 600.8 110.8 602.5C111.9 604.2 113.2 606.0 114.6 607.5C116.0 609.0 117.5 610.3 119.2 611.3C120.9 612.3 123.0 613.1 125.0 613.5C127.0 613.9 129.4 614.0 131.3 613.8C133.2 613.6 135.1 613.1 136.5 612.5C137.9 611.9 138.9 611.2 140.0 610.0C141.1 608.8 142.3 607.2 143.0 605.5C143.7 603.8 144.2 601.9 144.4 600.0C144.7 598.1 144.7 596.1 144.5 594.0C144.3 591.9 143.7 589.7 143.1 587.5C142.5 585.3 141.9 583.1 141.0 581.0C140.1 578.9 138.8 576.8 137.5 575.0C136.2 573.2 134.9 571.9 133.5 570.5C132.1 569.1 130.6 567.9 128.8 566.9C127.1 565.9 125.0 565.2 123.0 564.8C121.0 564.4 117.9 564.6 116.9 564.6" fill="none" stroke="#161616" stroke-width="3.9" stroke-linecap="round" stroke-linejoin="round"/>
<path d="M111.6 567.8C111.0 568.5 109.1 570.5 108.3 572.3C107.5 574.1 107.0 576.7 106.6 578.8C106.2 580.9 106.0 582.9 106.0 585.0C106.0 587.1 106.1 589.3 106.5 591.3C106.9 593.3 107.5 595.1 108.2 597.0C108.9 598.9 109.7 600.8 110.8 602.5C111.9 604.2 113.2 606.0 114.6 607.5C116.0 609.0 117.5 610.3 119.2 611.3C120.9 612.3 123.0 613.1 125.0 613.5C127.0 613.9 129.4 614.0 131.3 613.8C133.2 613.6 135.1 613.1 136.5 612.5C137.9 611.9 138.9 611.2 140.0 610.0C141.1 608.8 142.3 607.2 143.0 605.5C143.7 603.8 144.2 601.9 144.4 600.0C144.7 598.1 144.7 596.1 144.5 594.0C144.3 591.9 143.7 589.7 143.1 587.5C142.5 585.3 141.9 583.1 141.0 581.0C140.1 578.9 138.8 576.8 137.5 575.0C136.2 573.2 134.9 571.9 133.5 570.5C132.1 569.1 130.6 567.9 128.8 566.9C127.1 565.9 125.0 565.2 123.0 564.8C121.0 564.4 117.9 564.6 116.9 564.6" fill="none" stroke="#9a9a9a" stroke-width="1.3" stroke-linecap="round" stroke-linejoin="round"/>
<path class="m" d="M251 537.2L251.9 536.6M250.2 540.4L251 540M243.6 547.8L245.9 546.6" style="stroke:#333;stroke-width:1.3"/>
</g>
</svg>
</body></html>
